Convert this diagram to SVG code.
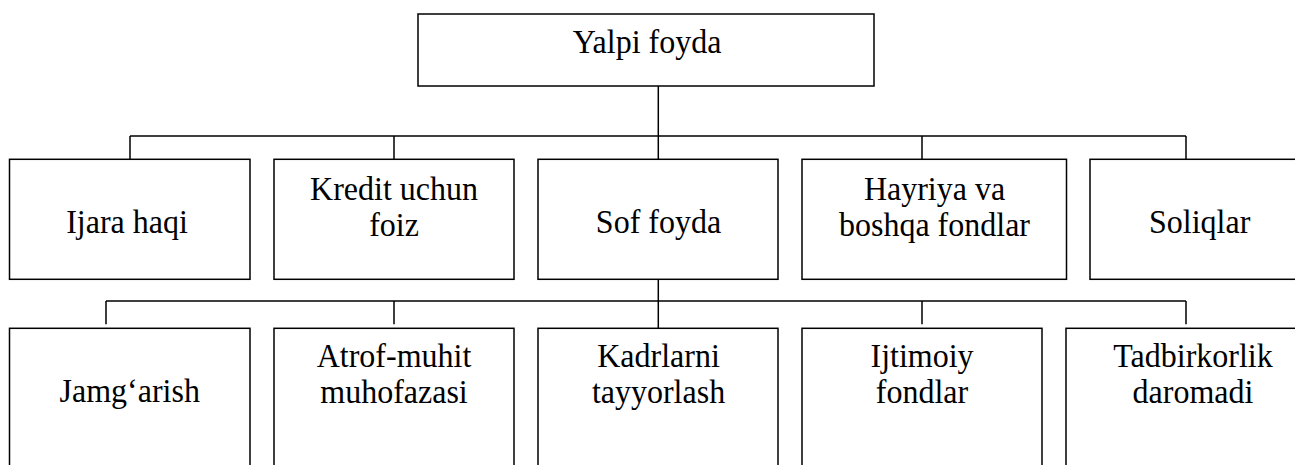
<svg xmlns="http://www.w3.org/2000/svg" width="1295" height="465" viewBox="0 0 1295 465">
<style>
  .box{fill:#fff;stroke:#000;stroke-width:1.5}
  .ln{fill:none;stroke:#000;stroke-width:1.5}
  text{font-family:"Liberation Serif","Times New Roman",serif;font-size:32px;fill:#000;text-anchor:middle}
</style>
<rect width="1295" height="465" fill="#fff"/>
<g id="connectors">
  <path class="ln" d="M658.3 86 V159.3 M130 136 H1186 M130 136 V159.3 M394 136 V159.3 M922 136 V159.3 M1186 136 V159.3"/>
  <path class="ln" d="M658.3 279.3 V328.3 M106 301 H1186 M106 301 V324.3 M394 301 V324.3 M922 301 V324.3 M1186 301 V324.3"/>
</g>
<g id="n-yalpi">
  <rect class="box" x="418" y="14" width="456" height="72"/>
  <text transform="translate(647 53.3) scale(1 1.07)">Yalpi foyda</text>
</g>
<g id="n-ijara">
  <rect class="box" x="9.5" y="159.3" width="240.5" height="120"/>
  <text transform="translate(127 232.5) scale(1 1.07)">Ijara haqi</text>
</g>
<g id="n-kredit">
  <rect class="box" x="274" y="159.3" width="240" height="120"/>
  <text transform="translate(394 199.5) scale(1 1.07)">Kredit uchun</text>
  <text transform="translate(394 235.5) scale(1 1.07)">foiz</text>
</g>
<g id="n-sof">
  <rect class="box" x="538" y="159.3" width="240" height="120"/>
  <text transform="translate(658.5 232.5) scale(1 1.07)">Sof foyda</text>
</g>
<g id="n-hayriya">
  <rect class="box" x="802" y="159.3" width="264.5" height="120"/>
  <text transform="translate(934.5 199.5) scale(1 1.07)">Hayriya va</text>
  <text transform="translate(934.5 235.5) scale(1 1.07)">boshqa fondlar</text>
</g>
<g id="n-soliqlar">
  <rect class="box" x="1090" y="159.3" width="220" height="120"/>
  <text transform="translate(1199.7 232.7) scale(1 1.07)">Soliqlar</text>
</g>
<g id="n-jamgarish">
  <rect class="box" x="9.5" y="328.3" width="240.5" height="150"/>
  <text transform="translate(129.7 401.7) scale(1 1.07)">Jamg‘arish</text>
</g>
<g id="n-atrof">
  <rect class="box" x="274" y="328.3" width="240" height="150"/>
  <text transform="translate(394 366.7) scale(1 1.07)">Atrof-muhit</text>
  <text transform="translate(394 403.3) scale(1 1.07)">muhofazasi</text>
</g>
<g id="n-kadr">
  <rect class="box" x="538" y="328.3" width="240" height="150"/>
  <text transform="translate(658.5 366.7) scale(1 1.07)">Kadrlarni</text>
  <text transform="translate(658.5 403.3) scale(1 1.07)">tayyorlash</text>
</g>
<g id="n-ijtimoiy">
  <rect class="box" x="802" y="328.3" width="240" height="150"/>
  <text transform="translate(922 366.7) scale(1 1.07)">Ijtimoiy</text>
  <text transform="translate(922 403.3) scale(1 1.07)">fondlar</text>
</g>
<g id="n-tadbir">
  <rect class="box" x="1066" y="328.3" width="254" height="150"/>
  <text transform="translate(1193 366.7) scale(1 1.07)">Tadbirkorlik</text>
  <text transform="translate(1193 403.3) scale(1 1.07)">daromadi</text>
</g>
</svg>
